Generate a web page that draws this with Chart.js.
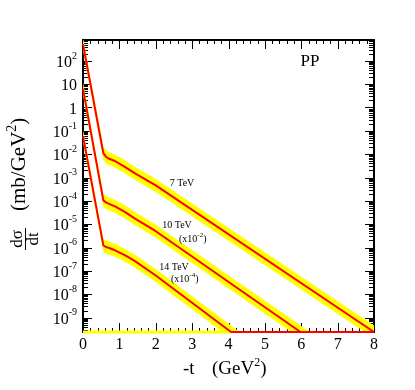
<!DOCTYPE html>
<html>
<head>
<meta charset="utf-8">
<script src="https://cdn.jsdelivr.net/npm/chart.js@4.4.1/dist/chart.umd.min.js"></script>
<style>
  body { margin: 0; background: #fff; }
  canvas { display: block; }
</style>
</head>
<body>
<canvas id="dsdtChart" width="415" height="390"></canvas>
<script>
// axis limits and ticks
const FLOOR = 2.4e-10;
const Y_MAX = 780;
const xTicks = [0, 1, 2, 3, 4, 5, 6, 7, 8];
const yDecades = [2, 1, 0, -1, -2, -3, -4, -5, -6, -7, -8, -9, -10];

// 7 TeV
const t7 = [0, 0.56, 0.63, 0.70, 0.88, 1.16, 1.43, 2.0, 8.0];
const sigma7 = [520, 1.1e-2, 7.8e-3, 6.5e-3, 5.1e-3, 2.8e-3, 1.5e-3, 4.6e-4, 2.4e-10];
const band7T = [0, 0.56, 0.63, 0.70, 0.88, 1.16, 1.43, 2.0, 8.0];
const band7Up = [990, 2.1e-2, 1.5e-2, 1.24e-2, 9.7e-3, 5.3e-3, 2.85e-3, 8.7e-4, 4.6e-10];
const band7Low = [270, 5.8e-3, 4.1e-3, 3.4e-3, 2.7e-3, 1.47e-3, 7.9e-4, 2.4e-4, 1.3e-10];

// 10 TeV (x10^-2)
const t10 = [0, 0.56, 0.63, 0.70, 0.88, 1.16, 1.43, 2.0, 5.98, 8.0];
const sigma10 = [6.3, 1.05e-4, 8.6e-5, 7.6e-5, 5.75e-5, 3.3e-5, 1.74e-5, 5.0e-6, 2.4e-10, 2.4e-10];
const band10T = [0, 0.56, 0.63, 0.70, 0.88, 1.16, 1.43, 2.0, 6.24, 8.0];
const band10Up = [12, 2.0e-4, 1.64e-4, 1.44e-4, 1.09e-4, 6.3e-5, 3.3e-5, 9.5e-6, 2.4e-10, 2.4e-10];
const band10Low = [3.3, 5.5e-5, 4.5e-5, 4.0e-5, 3.0e-5, 1.74e-5, 9.2e-6, 2.6e-6, 6.6e-11, 1e-12];

// 14 TeV (x10^-4)
const t14 = [0, 0.56, 0.63, 0.70, 0.88, 1.16, 1.43, 2.0, 4.07, 8.0];
const sigma14 = [5.9e-2, 1.23e-6, 1.05e-6, 9.8e-7, 7.6e-7, 4.6e-7, 2.6e-7, 6.3e-8, 2.4e-10, 2.4e-10];
const band14T = [0, 0.56, 0.63, 0.70, 0.88, 1.16, 1.43, 2.0, 4.31, 8.0];
const band14Up = [0.112, 2.3e-6, 2.0e-6, 1.86e-6, 1.44e-6, 8.7e-7, 4.9e-7, 1.2e-7, 2.4e-10, 2.4e-10];
const band14Low = [3.1e-2, 6.5e-7, 5.5e-7, 5.2e-7, 4.0e-7, 2.4e-7, 1.37e-7, 3.3e-8, 6.6e-11, 1e-13];

// yellow strip lying on the bottom axis
const floorStripT = [0, 4.07];

const RED = 'rgb(255,0,0)';
const YELLOW = 'rgb(255,255,0)';
const SERIF = '"Liberation Serif", "DejaVu Serif", serif';

const pts = (ts, vs) => ts.map((t, i) => ({ x: t, y: vs[i] }));

function bandPair(ts, up, low) {
    return [
        { data: pts(ts, up), borderWidth: 0, pointRadius: 0, fill: '+1', backgroundColor: YELLOW, order: 2 },
        { data: pts(ts, low), borderWidth: 0, pointRadius: 0, fill: false, order: 2 }
    ];
}

function redLine(ts, vs) {
    return {
        data: pts(ts, vs), borderColor: RED, borderWidth: 2, pointRadius: 0, fill: false,
        order: 0, borderJoinStyle: 'round', clip: { left: 2, top: 0, right: 2, bottom: 3 }
    };
}

// text with optional superscript, returns width
function supText(ctx, base, exp, x, y, size, align) {
    ctx.font = size + 'px ' + SERIF;
    const wb = ctx.measureText(base).width;
    const small = Math.round(size * 0.65);
    ctx.font = small + 'px ' + SERIF;
    const we = exp ? ctx.measureText(exp).width : 0;
    let x0 = x;
    if (align === 'right') x0 = x - wb - we;
    if (align === 'center') x0 = x - (wb + we) / 2;
    ctx.textAlign = 'left';
    ctx.font = size + 'px ' + SERIF;
    ctx.fillText(base, x0, y);
    if (exp) {
        ctx.font = small + 'px ' + SERIF;
        ctx.fillText(exp, x0 + wb, y - size * 0.42);
    }
    return wb + we;
}

const axesPlugin = {
    id: 'axesPlugin',
    beforeDatasetsDraw(chart) {
        const { ctx, chartArea: a, scales: { x, y } } = chart;
        ctx.save();
        ctx.strokeStyle = '#000';
        ctx.lineWidth = 1;
        ctx.beginPath();
        yDecades.forEach(p => {
            for (let m = 1; m <= 9; m++) {
                const v = m * Math.pow(10, p);
                if (v < FLOOR || v > Y_MAX) continue;
                const py = Math.round(y.getPixelForValue(v)) + 0.5;
                const len = m === 1 ? 9 : 5;
                ctx.moveTo(a.left, py); ctx.lineTo(a.left + len, py);
                ctx.moveTo(a.right - len, py); ctx.lineTo(a.right, py);
            }
        });
        for (let i = 0; i <= 40; i++) {
            const px = Math.round(x.getPixelForValue(i * 0.2)) + 0.5;
            const len = i % 5 === 0 ? 9 : 4;
            ctx.moveTo(px, a.top); ctx.lineTo(px, a.top + len);
            ctx.moveTo(px, a.bottom); ctx.lineTo(px, a.bottom - len);
        }
        ctx.stroke();
        ctx.lineWidth = 2;
        ctx.strokeRect(a.left, a.top, a.right - a.left, a.bottom - a.top);
        ctx.restore();
    },
    afterDraw(chart) {
        const { ctx, scales: { x, y } } = chart;
        ctx.save();
        ctx.fillStyle = '#000';
        ctx.textBaseline = 'middle';

        // y tick labels
        yDecades.forEach(p => {
            const v = Math.pow(10, p);
            if (v < FLOOR || v > Y_MAX) return;
            const py = y.getPixelForValue(v) + 2;
            if (p === 0) supText(ctx, '1', '', 77, py, 16, 'right');
            else if (p === 1) supText(ctx, '10', '', 77, py, 16, 'right');
            else supText(ctx, '10', String(p), 77, py, 16, 'right');
        });

        // x tick labels
        xTicks.forEach(t => {
            supText(ctx, String(t), '', x.getPixelForValue(t), 345, 16, 'center');
        });

        ctx.textBaseline = 'alphabetic';
        // x title
        supText(ctx, '-t', '', 183, 374, 19, 'left');
        let w = supText(ctx, '(GeV', '2', 212, 374, 19, 'left');
        supText(ctx, ')', '', 212 + w, 374, 19, 'left');

        // y title
        ctx.save();
        ctx.translate(25, 211);
        ctx.rotate(-Math.PI / 2);
        w = supText(ctx, '(mb/GeV', '2', 0, 0, 21, 'left');
        supText(ctx, ')', '', w, 0, 21, 'left');
        ctx.restore();

        ctx.save();
        ctx.translate(25, 239);
        ctx.rotate(-Math.PI / 2);
        ctx.font = '17px ' + SERIF;
        ctx.textAlign = 'center';
        ctx.fillText('d\u03c3', 0, -3);
        ctx.fillText('dt', 0, 13);
        ctx.lineWidth = 1;
        ctx.beginPath();
        ctx.moveTo(-11, 0.5); ctx.lineTo(11, 0.5);
        ctx.stroke();
        ctx.restore();

        // annotations
        ctx.textBaseline = 'middle';
        supText(ctx, 'PP', '', 310, 62, 17, 'center');
        supText(ctx, '7 TeV', '', 182, 183, 10, 'center');
        supText(ctx, '10 TeV', '', 177, 225, 10, 'center');
        w = supText(ctx, '(x10', '-2', 179, 239, 10, 'left');
        supText(ctx, ')', '', 179 + w, 239, 10, 'left');
        supText(ctx, '14 TeV', '', 174, 267, 10, 'center');
        w = supText(ctx, '(x10', '-4', 171, 279, 10, 'left');
        supText(ctx, ')', '', 171 + w, 279, 10, 'left');
        ctx.restore();
    }
};

new Chart(document.getElementById('dsdtChart'), {
    type: 'line',
    data: {
        datasets: [
            ...bandPair(band7T, band7Up, band7Low),
            ...bandPair(band10T, band10Up, band10Low),
            ...bandPair(band14T, band14Up, band14Low),
            {
                data: pts(floorStripT, [FLOOR, FLOOR]), borderColor: YELLOW, borderWidth: 3,
                pointRadius: 0, fill: false, order: 1, clip: { left: 2, top: 0, right: 0, bottom: 3 }
            },
            redLine(t7, sigma7),
            redLine(t10, sigma10),
            redLine(t14, sigma14)
        ]
    },
    options: {
        responsive: false,
        animation: false,
        events: [],
        layout: { padding: { left: 83, top: 40, right: 41, bottom: 58 } },
        plugins: { legend: { display: false }, tooltip: { enabled: false } },
        scales: {
            x: { type: 'linear', min: 0, max: 8, display: false },
            y: { type: 'logarithmic', min: FLOOR, max: Y_MAX, display: false }
        }
    },
    plugins: [axesPlugin]
});
</script>
</body>
</html>
